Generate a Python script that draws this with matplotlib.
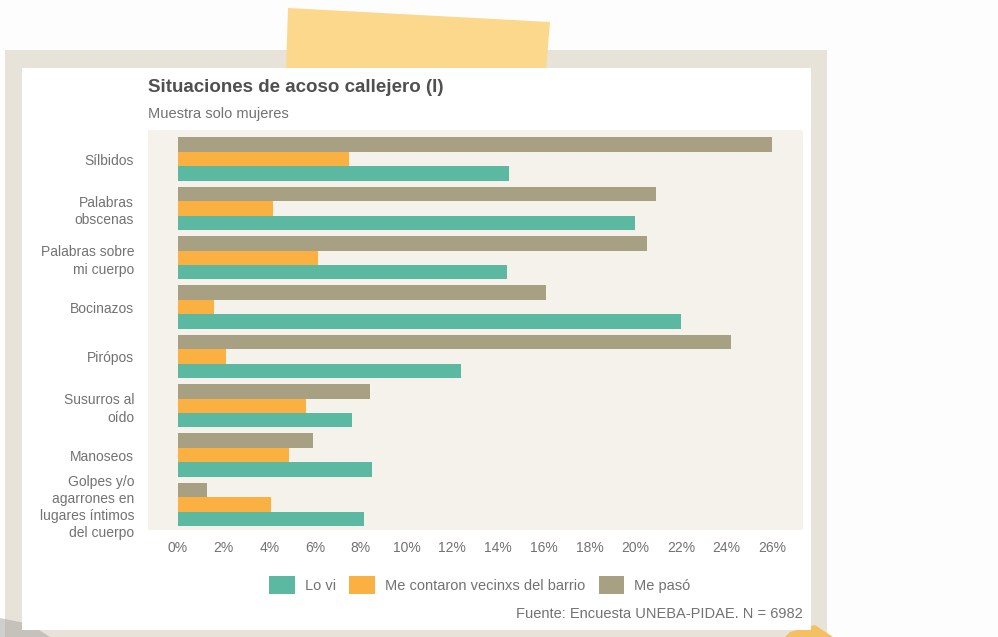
import matplotlib
matplotlib.use("Agg")
import matplotlib.pyplot as plt
from matplotlib.patches import Rectangle, Polygon
import numpy as np

plt.rcParams['font.family'] = ['Liberation Sans', 'DejaVu Sans']

categories = ["Sílbidos", "Palabras\nobscenas", "Palabras sobre\nmi cuerpo", "Bocinazos",
              "Pirópos", "Susurros al\noído", "Manoseos",
              "Golpes y/o\nagarrones en\nlugares íntimos\ndel cuerpo"]
me_paso = [26.0, 20.9, 20.5, 16.1, 24.2, 8.4, 5.9, 1.3]
me_contaron = [7.5, 4.15, 6.15, 1.6, 2.1, 5.6, 4.85, 4.1]
lo_vi = [14.5, 20.0, 14.4, 22.0, 12.4, 7.6, 8.5, 8.15]
series_labels = ["Lo vi", "Me contaron vecinxs del barrio", "Me pasó"]
xticks = list(range(0, 27, 2))

TEAL = "#5cb9a1"
ORANGE = "#fbb142"
TAN = "#a8a083"
PLOTBG = "#f5f1eb"
TXT = "#727272"

W, H = 998, 637
fig = plt.figure(figsize=(W / 100, H / 100), dpi=100)
fig.patch.set_facecolor("#fdfdfd")

# decorative background (frame, tape, card)
bg = fig.add_axes([0, 0, 1, 1], zorder=0)
bg.set_xlim(0, W)
bg.set_ylim(H, 0)
bg.axis("off")
bg.add_patch(Rectangle((5, 50), 822, 600, facecolor="#e7e3d9", edgecolor="none"))
bg.add_patch(Polygon([(288, 8), (550, 22), (546, 70), (286, 70)], closed=True,
                     facecolor="#fcd88c", edgecolor="none"))
bg.add_patch(Polygon([(0, 618), (30, 624), (50, 637), (0, 637)], closed=True,
                     facecolor="#a3a39f", edgecolor="none", alpha=0.5))
bg.add_patch(Polygon([(790, 632), (815, 625), (833, 637), (785, 637)], closed=True,
                     facecolor="#f5c062", edgecolor="none"))
bg.add_patch(Rectangle((22, 68), 789, 562, facecolor="#ffffff", edgecolor="none"))

def fx(px):
    return px / W

def fy(py):
    return 1 - py / H

ax = fig.add_axes([fx(148), fy(530), fx(803) - fx(148), (530 - 130) / H], zorder=1)
ax.set_facecolor(PLOTBG)
for s in ax.spines.values():
    s.set_visible(False)

y = np.arange(len(categories))
h = 0.292
b_vi = ax.barh(y + h, lo_vi, height=h, color=TEAL, label=series_labels[0])
b_mc = ax.barh(y, me_contaron, height=h, color=ORANGE, label=series_labels[1])
b_mp = ax.barh(y - h, me_paso, height=h, color=TAN, label=series_labels[2])

ax.set_xlim(-1.3, 27.34)
ax.set_ylim(7.52, -0.59)
ax.set_xticks(xticks)
ax.set_xticklabels([f"{t}%" for t in xticks])
ax.set_yticks(y)
ax.set_yticklabels(categories, ma="right", linespacing=1.3)
ax.tick_params(axis="x", length=0, pad=8, labelsize=10, labelcolor=TXT)
ax.tick_params(axis="y", length=0, pad=10, labelsize=10, labelcolor=TXT)

fig.text(fx(148), fy(87), "Situaciones de acoso callejero (I)", fontsize=13.5,
         fontweight="bold", color="#505050", ha="left", va="center")
fig.text(fx(148), fy(114), "Muestra solo mujeres", fontsize=10.5, color=TXT,
         ha="left", va="center")
fig.text(fx(803), fy(614), "Fuente: Encuesta UNEBA-PIDAE. N = 6982", fontsize=10.5,
         color=TXT, ha="right", va="center")

leg = ax.legend(handles=[b_vi, b_mc, b_mp], loc="center", ncol=3,
                bbox_to_anchor=(fx(480), fy(585)), bbox_transform=fig.transFigure,
                frameon=False, fontsize=10.5, handlelength=1.75, handleheight=1.6,
                handletextpad=0.7, columnspacing=0.9, borderpad=0)
for t in leg.get_texts():
    t.set_color(TXT)

fig.savefig("out.png", dpi=100, facecolor=fig.get_facecolor())
